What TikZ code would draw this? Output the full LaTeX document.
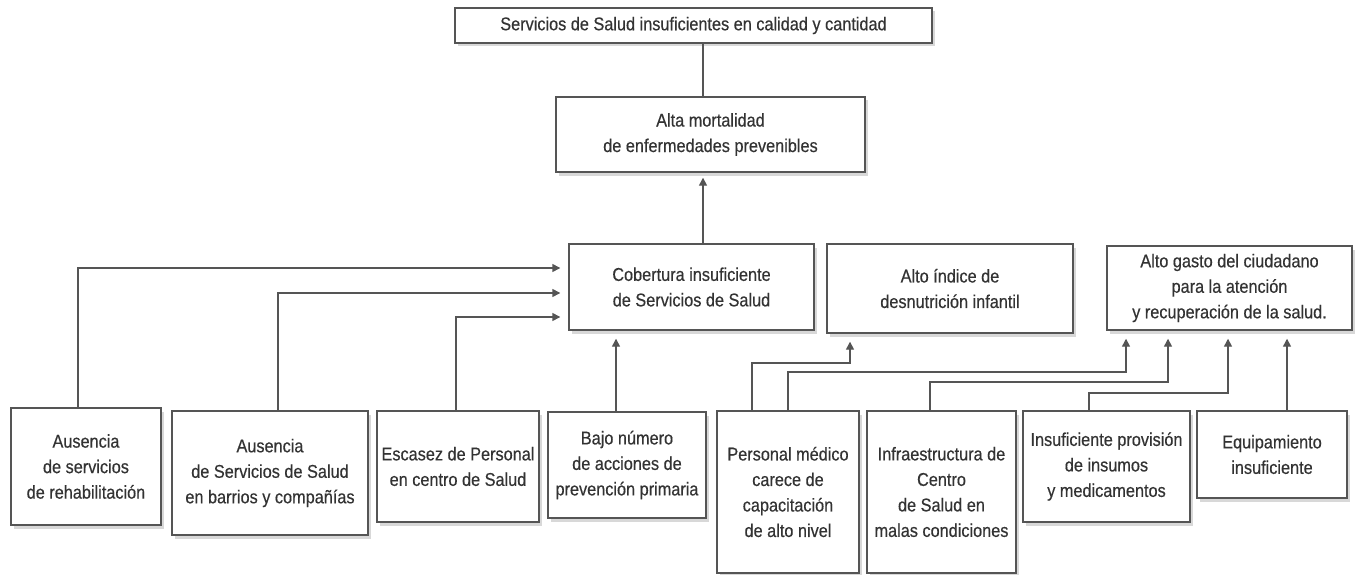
\documentclass[tikz,border=0pt]{standalone}
\usepackage{fontspec}
\setmainfont[FakeStretch=0.88,FakeBold=0.4]{Liberation Sans}
\usetikzlibrary{arrows.meta,shadows}
\definecolor{ink}{HTML}{333333}
\definecolor{edgec}{HTML}{555555}
\begin{document}
\begin{tikzpicture}[x=1pt,y=-1pt,
  box/.style={draw=edgec, line width=1.4pt, fill=white, align=center, inner sep=0pt, text=ink,
    font=\fontsize{18.5}{25.5}\selectfont,
    drop shadow={shadow xshift=2.5pt, shadow yshift=-3.5pt, opacity=0.3}},
  con/.style={draw=edgec, line width=1.4pt},
  arr/.style={con, -{Triangle[length=8pt,width=8pt]}, shorten >=8pt}]
\useasboundingbox[fill=white] (0,0) rectangle (1356,575);

% upper chain
\node[box, minimum width=477pt, minimum height=35pt] (top) at (693.5,25.5) {Servicios de Salud insuficientes en calidad y cantidad};
\node[box, minimum width=309pt, minimum height=75pt] (mort) at (710.5,134.5) {Alta mortalidad\\de enfermedades prevenibles};

% middle row
\node[box, minimum width=245pt, minimum height=86pt] (cob) at (691.5,287) {Cobertura insuficiente\\de Servicios de Salud};
\node[box, minimum width=246pt, minimum height=89pt] (des) at (950,288.5) {Alto índice de\\desnutrición infantil};
\node[box, minimum width=245pt, minimum height=84pt] (gas) at (1229.5,288) {Alto gasto del ciudadano\\para la atención\\y recuperación de la salud.};

% bottom row
\node[box, minimum width=150pt, minimum height=117pt] (b1) at (86,466.5) {Ausencia\\de servicios\\de rehabilitación};
\node[box, minimum width=196pt, minimum height=124pt] (b2) at (270,473) {Ausencia\\de Servicios de Salud\\en barrios y compañías};
\node[box, minimum width=162pt, minimum height=111pt] (b3) at (458,466.5) {Escasez de Personal\\en centro de Salud};
\node[box, minimum width=158pt, minimum height=106pt] (b4) at (627,465) {Bajo número\\de acciones de\\prevención primaria};
\node[box, minimum width=142pt, minimum height=162pt] (b5) at (788,492) {Personal médico\\carece de\\capacitación\\de alto nivel};
\node[box, minimum width=149pt, minimum height=162pt] (b6) at (941.5,492) {Infraestructura de\\Centro\\de Salud en\\malas condiciones};
\node[box, minimum width=167pt, minimum height=111pt] (b7) at (1106.5,466.5) {Insuficiente provisión\\de insumos\\y medicamentos};
\node[box, minimum width=150pt, minimum height=87pt] (b8) at (1272,454.5) {Equipamiento\\insuficiente};

% helper coordinates
\coordinate (vx) at (703,0);
\coordinate (k1) at (78,268);
\coordinate (k2) at (278,293);
\coordinate (k3) at (456,317);
\coordinate (k4) at (616,0);
\coordinate (p1) at (752,363);
\coordinate (q1) at (850,363);
\coordinate (p2) at (788,372);
\coordinate (q2) at (1126,372);
\coordinate (p3) at (930,382);
\coordinate (q3) at (1168,382);
\coordinate (p4) at (1089,393);
\coordinate (q4) at (1228,393);
\coordinate (k8) at (1287,0);

% connectors
\draw[con] (top.south -| vx) -- (mort.north -| vx);
\draw[arr, shorten >=5pt] (cob.north -| vx) -- (mort.south -| vx);
\draw[arr] (b1.north -| k1) |- (cob.west |- k1);
\draw[arr] (b2.north -| k2) |- (cob.west |- k2);
\draw[arr] (b3.north -| k3) |- (cob.west |- k3);
\draw[arr] (b4.north -| k4) -- (cob.south -| k4);
\draw[arr] (b5.north -| p1) -- (p1) -- (q1) -- (des.south -| q1);
\draw[arr] (b5.north -| p2) -- (p2) -- (q2) -- (gas.south -| q2);
\draw[arr] (b6.north -| p3) -- (p3) -- (q3) -- (gas.south -| q3);
\draw[arr] (b7.north -| p4) -- (p4) -- (q4) -- (gas.south -| q4);
\draw[arr] (b8.north -| k8) -- (gas.south -| k8);
\end{tikzpicture}
\end{document}
